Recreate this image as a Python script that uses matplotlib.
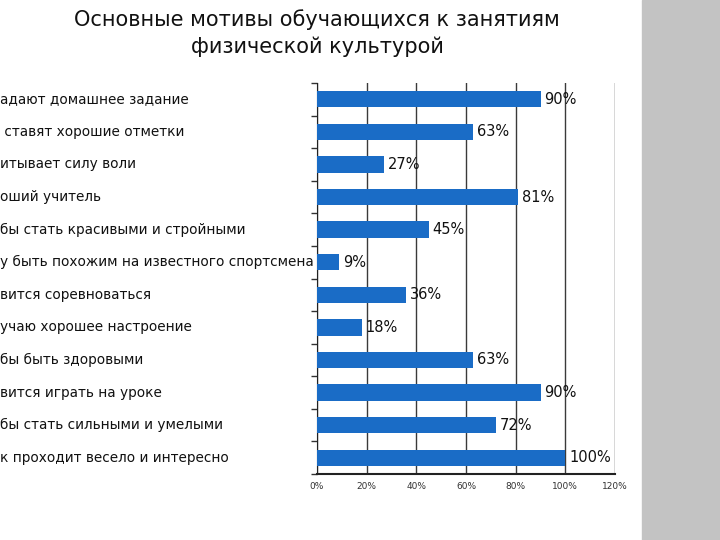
import matplotlib
matplotlib.use("Agg")
import matplotlib.pyplot as plt
from matplotlib.patches import Rectangle
from matplotlib.transforms import blended_transform_factory

plt.rcParams["font.family"] = ["DejaVu Sans"]

title = "Основные мотивы обучающихся к занятиям\nфизической культурой"

# visible (cut off at the left edge) category labels, top to bottom
labels = [
    "адают домашнее задание",
    " ставят хорошие отметки",
    "итывает силу воли",
    "оший учитель",
    "бы стать красивыми и стройными",
    "у быть похожим на известного спортсмена",
    "вится соревноваться",
    "учаю хорошее настроение",
    "бы быть здоровыми",
    "вится играть на уроке",
    "бы стать сильными и умелыми",
    "к проходит весело и интересно",
]
values = [90, 63, 27, 81, 45, 9, 36, 18, 63, 90, 72, 100]
xticks = [0, 20, 40, 60, 80, 100, 120]

fig = plt.figure(figsize=(7.2, 5.4), dpi=100)
fig.patches.append(Rectangle((642 / 720, 0), 78 / 720, 1, transform=fig.transFigure,
                             color="#c3c3c3", zorder=0))

ax = fig.add_axes([317 / 720, 66 / 540, 298 / 720, 391 / 540])
n = len(values)
ypos = list(range(n))
ax.barh(ypos, values, height=0.5, color="#1a6cc6", zorder=3)
ax.set_ylim(n - 0.5, -0.5)
ax.set_xlim(0, 120)

ax.set_xticks(xticks)
ax.set_xticklabels([f"{t}%" for t in xticks], fontsize=6.5, color="#333333")
ax.xaxis.grid(True, color="#3a3a3a", linewidth=1.0, zorder=1)
ax.tick_params(axis="x", length=0, pad=6)

ax.set_yticks([i + 0.5 for i in range(-1, n)])
ax.set_yticklabels([])
ax.tick_params(axis="y", length=4, width=1, color="#333333")

for side in ["top", "right"]:
    ax.spines[side].set_visible(False)
ax.spines["left"].set_color("#222222")
ax.spines["bottom"].set_color("#222222")
ax.spines["bottom"].set_linewidth(1.5)

for y, v in zip(ypos, values):
    ax.text(v + 1.5, y, f"{v}%", va="center", ha="left", fontsize=10.5,
            color="#111111", zorder=4)

trans = blended_transform_factory(fig.transFigure, ax.transData)
for y, lab in zip(ypos, labels):
    ax.text(0.0, y, lab, transform=trans, ha="left", va="center", fontsize=9.8,
            color="#111111", clip_on=False)

fig.text(317 / 720, 1 - 33 / 540, title, ha="center", va="center", fontsize=15,
         linespacing=1.35, color="#111111")

fig.savefig("out.png", dpi=100)
